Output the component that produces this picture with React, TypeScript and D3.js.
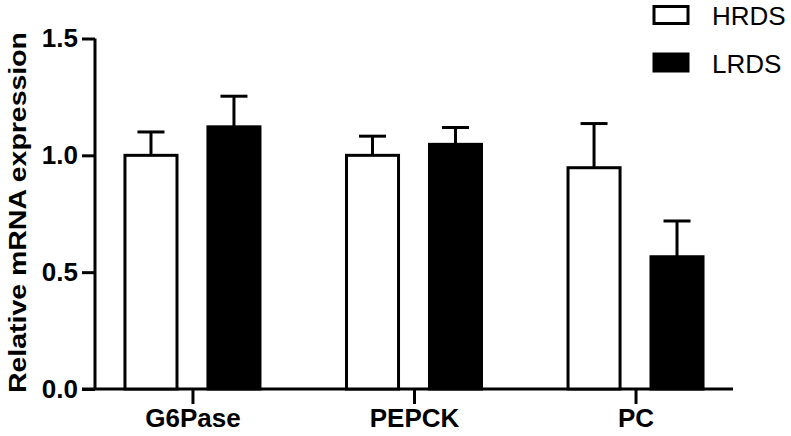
import React, { useEffect, useRef } from "react"
import * as d3 from "d3"

const genes = ["G6Pase", "PEPCK", "PC"]
const groups = ["HRDS", "LRDS"]
const hrdsMean = [1.0, 1.0, 0.947]
const hrdsSd = [0.1, 0.082, 0.189]
const lrdsMean = [1.122, 1.047, 0.566]
const lrdsSd = [0.131, 0.072, 0.153]
const yTicks = [0, 0.5, 1.0, 1.5]

const colors: Record<string, string> = { HRDS: "#ffffff", LRDS: "#000000" }

const App = () => {
  const svgRef = useRef<SVGSVGElement>(null)

  useEffect(() => {
    const font = "'Liberation Sans', Arial, sans-serif"
    const svg = d3.select(svgRef.current)
    svg.selectAll("*").remove()

    const rows = genes.flatMap((g, i) => [
      { gene: g, group: "HRDS", mean: hrdsMean[i], sd: hrdsSd[i] },
      { gene: g, group: "LRDS", mean: lrdsMean[i], sd: lrdsSd[i] },
    ])

    // scales
    const x = d3.scalePoint<string>().domain(genes).range([95, 733]).padding(0.44)
    const xSub = d3.scaleBand<string>().domain(groups).range([-67.5, 67.5]).paddingInner(0.373)
    const y = d3.scaleLinear().domain([0, 1.5]).range([389, 38.5])

    // axes
    const yAxis = svg.append("g").attr("transform", "translate(95,0)")
      .call(d3.axisLeft(y).tickValues(yTicks).tickFormat(d3.format(".1f")).tickSize(13).tickPadding(4))
    yAxis.select(".domain").attr("stroke-width", 3).attr("d", `M0,${y(1.5)}V${y(0)}`)
    yAxis.selectAll("line").attr("stroke-width", 3)
    yAxis.selectAll("text")
      .attr("font-family", font).attr("font-size", 26).attr("font-weight", "bold").attr("fill", "#000")

    const xAxis = svg.append("g").attr("transform", "translate(0,389)")
      .call(d3.axisBottom(x).tickSize(15).tickPadding(5))
    xAxis.select(".domain").attr("stroke-width", 3).attr("d", "M82,0H733")
    xAxis.selectAll("line").attr("stroke-width", 3)
    xAxis.selectAll("text")
      .attr("font-family", font).attr("font-size", 26).attr("font-weight", "bold").attr("fill", "#000")

    // bars with upper error bars
    const bar = svg.append("g").selectAll("g")
      .data(rows)
      .join("g")
      .attr("transform", (d) => `translate(${x(d.gene)! + xSub(d.group)!},0)`)

    bar.append("line")
      .attr("x1", xSub.bandwidth() / 2).attr("x2", xSub.bandwidth() / 2)
      .attr("y1", (d) => y(d.mean)).attr("y2", (d) => y(d.mean + d.sd))
      .attr("stroke", "#000").attr("stroke-width", 3)
    bar.append("line")
      .attr("x1", xSub.bandwidth() / 2 - 13.5).attr("x2", xSub.bandwidth() / 2 + 13.5)
      .attr("y1", (d) => y(d.mean + d.sd)).attr("y2", (d) => y(d.mean + d.sd))
      .attr("stroke", "#000").attr("stroke-width", 3)
    bar.append("rect")
      .attr("x", 0).attr("width", xSub.bandwidth())
      .attr("y", (d) => y(d.mean)).attr("height", (d) => y(0) - y(d.mean))
      .attr("fill", (d) => colors[d.group]).attr("stroke", "#000").attr("stroke-width", 3)

    // y title
    svg.append("text")
      .attr("transform", `translate(26,${(32 + 393) / 2}) rotate(-90)`)
      .attr("text-anchor", "middle")
      .attr("font-family", font).attr("font-size", 24).attr("font-weight", "bold")
      .attr("textLength", 361).attr("lengthAdjust", "spacingAndGlyphs")
      .text("Relative mRNA expression")

    // legend
    const legend = svg.append("g").selectAll("g")
      .data(groups)
      .join("g")
      .attr("transform", (d, i) => `translate(654,${6.5 + i * 47.5})`)
    legend.append("rect")
      .attr("width", 34).attr("height", 17)
      .attr("fill", (d) => colors[d]).attr("stroke", "#000").attr("stroke-width", 3)
    legend.append("text")
      .attr("x", 58).attr("y", 18.5)
      .attr("font-family", font).attr("font-size", 26)
      .text((d) => d)
  }, [])

  return (
    <div>
      <svg ref={svgRef} width={791} height={436}
        style={{ position: "absolute", left: 0, top: 0, background: "#fff" }} />
    </div>
  )
}

export default App
